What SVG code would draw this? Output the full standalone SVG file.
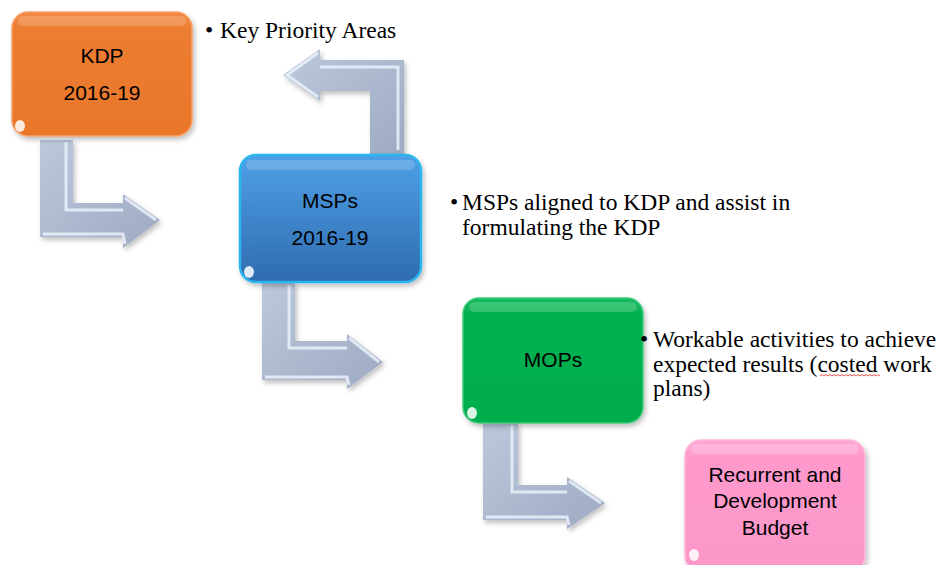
<svg xmlns="http://www.w3.org/2000/svg" width="946" height="565" viewBox="0 0 946 565">
<defs>
<linearGradient id="gOr" x1="0" y1="0" x2="0" y2="1"><stop offset="0" stop-color="#F28A45"/><stop offset="0.15" stop-color="#ED7D31"/><stop offset="1" stop-color="#E8772B"/></linearGradient>
<linearGradient id="gBl" x1="0" y1="0" x2="0" y2="1"><stop offset="0" stop-color="#4FA0E6"/><stop offset="1" stop-color="#2F6BB0"/></linearGradient>
<linearGradient id="gGr" x1="0" y1="0" x2="0" y2="1"><stop offset="0" stop-color="#14BA5C"/><stop offset="0.15" stop-color="#00B050"/><stop offset="1" stop-color="#00AD4E"/></linearGradient>
<linearGradient id="gPk" x1="0" y1="0" x2="0" y2="1"><stop offset="0" stop-color="#FFA6D4"/><stop offset="0.15" stop-color="#FF99CC"/><stop offset="1" stop-color="#FB97C9"/></linearGradient>
<linearGradient id="gAr" x1="0" y1="0" x2="1" y2="1"><stop offset="0" stop-color="#BCC8DC"/><stop offset="1" stop-color="#9DAAC2"/></linearGradient>
<filter id="sh" x="-10%" y="-10%" width="130%" height="130%"><feDropShadow dx="2" dy="3" stdDeviation="2.5" flood-color="#000" flood-opacity="0.25"/></filter>
</defs>
<style>
.node text{font-family:"Liberation Sans",Arial,sans-serif;font-size:21px;fill:#000;text-anchor:middle}
.lbl{font-family:"Liberation Serif","Times New Roman",serif;font-size:23.5px;fill:#000}
.hl{fill:none;stroke:#fff;stroke-opacity:0.35;stroke-width:5}
.arr{fill:url(#gAr);filter:url(#sh)}
.bev{fill:none;stroke:#EAF1FB;stroke-width:3;stroke-opacity:0.85}
.spot{fill:#fff;opacity:0.85}
</style>

<g id="connectors">
<g id="arrow1">
<polygon class="arr" points="40,140 73,140 73,203 123,203 123,194 160,220 123,248 123,237 40,237"/>
<polyline class="bev" points="66,142 66,210 123,210"/>
<polyline class="bev" points="125,198 156,220"/>
<polyline class="bev" points="43,234 123,234 125,244"/>
</g>
<g id="arrow2">
<polygon class="arr" points="404,155 404,60 320,60 320,49 283,75 320,101 320,91 370,91 370,155"/>
<polyline class="bev" points="320,67 398,67 398,150"/>
<polyline class="bev" points="318,53 287,75 318,97"/>
</g>
<g id="arrow3">
<polygon class="arr" points="262,283 295,283 295,341 347,341 347,334 383,362 347,389 347,380 262,380"/>
<polyline class="bev" points="289,285 289,348 347,348"/>
<polyline class="bev" points="349,338 379,362"/>
<polyline class="bev" points="265,377 347,377 349,385"/>
</g>
<g id="arrow4">
<polygon class="arr" points="483,423 518,423 518,485 567,485 567,477 605,503 567,529 567,520 483,520"/>
<polyline class="bev" points="512,425 512,492 567,492"/>
<polyline class="bev" points="569,481 601,503"/>
<polyline class="bev" points="486,517 567,517 569,525"/>
</g>
</g>

<g id="kdp" class="node">
<rect x="12" y="12" width="180" height="124" rx="16" fill="url(#gOr)" stroke="#F4A26A" stroke-width="1.5" filter="url(#sh)"/>
<rect x="18" y="16" width="168" height="10" rx="5" fill="#fff" opacity="0.18"/>
<ellipse class="spot" cx="20" cy="126" rx="5" ry="6"/>
<text x="102" y="63">KDP</text>
<text x="102" y="100">2016-19</text>
</g>

<g id="msps" class="node">
<rect x="240" y="155" width="181" height="127" rx="16" fill="url(#gBl)" stroke="#2BB5EE" stroke-width="2.5" filter="url(#sh)"/>
<rect x="246" y="160" width="169" height="10" rx="5" fill="#fff" opacity="0.18"/>
<ellipse class="spot" cx="249" cy="272" rx="5" ry="6"/>
<text x="330" y="208">MSPs</text>
<text x="330" y="245">2016-19</text>
</g>

<g id="mops" class="node">
<rect x="463" y="298" width="180" height="125" rx="16" fill="url(#gGr)" stroke="#3CCB7A" stroke-width="1.5" filter="url(#sh)"/>
<rect x="469" y="302" width="168" height="10" rx="5" fill="#fff" opacity="0.18"/>
<ellipse class="spot" cx="472" cy="413" rx="5" ry="6"/>
<text x="553" y="367">MOPs</text>
</g>

<g id="budget" class="node">
<rect x="685" y="440" width="180" height="132" rx="16" fill="url(#gPk)" stroke="#FFB8DC" stroke-width="1.5" filter="url(#sh)"/>
<rect x="691" y="444" width="168" height="10" rx="5" fill="#fff" opacity="0.2"/>
<ellipse class="spot" cx="694" cy="555" rx="5" ry="6"/>
<text x="775" y="482">Recurrent and</text>
<text x="775" y="508">Development</text>
<text x="775" y="535">Budget</text>
</g>

<g id="labels">
<text class="lbl" x="205" y="38">•</text>
<text class="lbl" x="220" y="38">Key Priority Areas</text>
<text class="lbl" x="450" y="210">•</text>
<text class="lbl" x="462" y="210">MSPs aligned to KDP and assist in</text>
<text class="lbl" x="462" y="235">formulating the KDP</text>
<text class="lbl" x="640" y="347">•</text>
<text class="lbl" x="653" y="347">Workable activities to achieve</text>
<text class="lbl" x="653" y="372">expected results (costed work</text>
<text class="lbl" x="653" y="396">plans)</text>
<path d="M820,376 l2,-1.5 l2,1.5 l2,-1.5 l2,1.5 l2,-1.5 l2,1.5 l2,-1.5 l2,1.5 l2,-1.5 l2,1.5 l2,-1.5 l2,1.5 l2,-1.5 l2,1.5 l2,-1.5 l2,1.5 l2,-1.5 l2,1.5 l2,-1.5 l2,1.5 l2,-1.5 l2,1.5 l2,-1.5 l2,1.5 l2,-1.5 l2,1.5 l2,-1.5 l2,1.5 l2,-1.5 l2,1.5" fill="none" stroke="#E0403A" stroke-width="0.9"/>
</g>
</svg>
